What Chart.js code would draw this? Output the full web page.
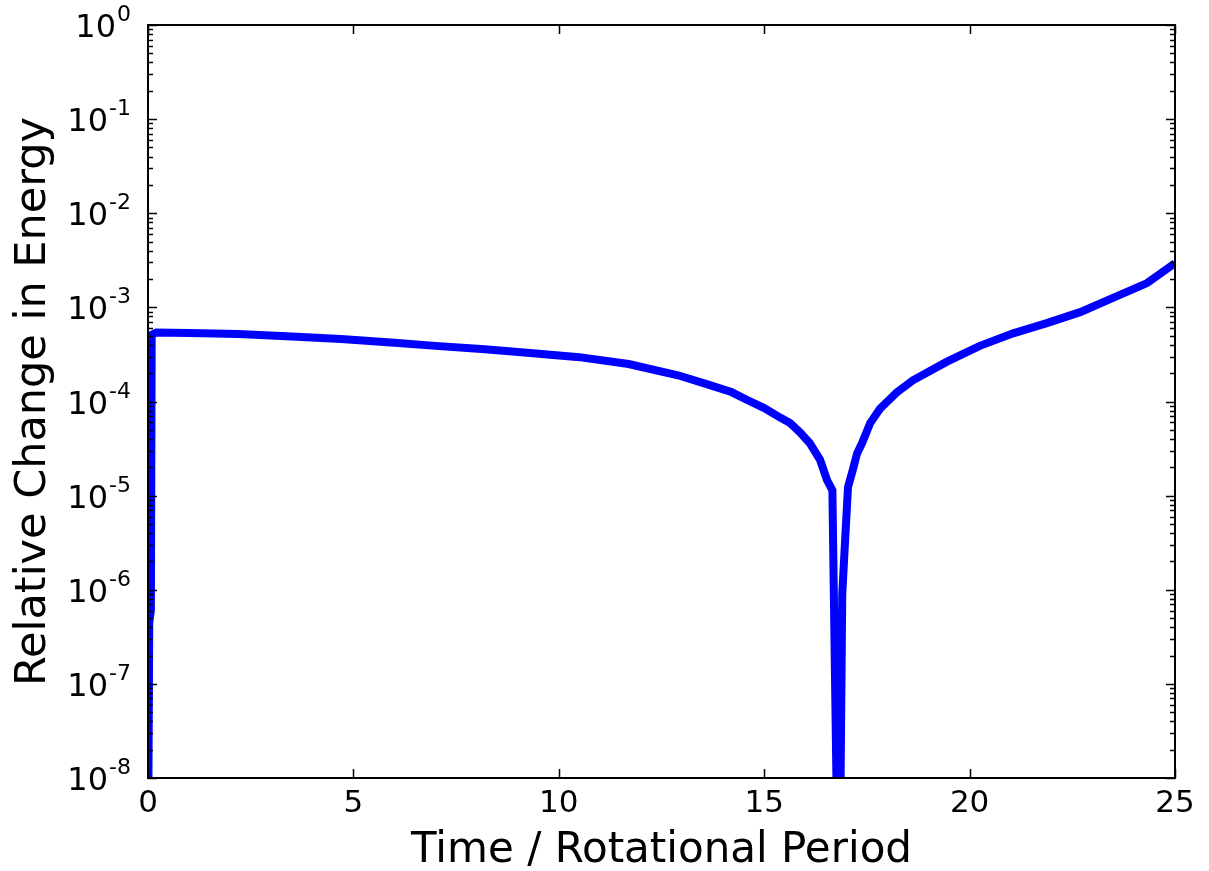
<!DOCTYPE html>
<html>
<head>
<meta charset="utf-8">
<script src="https://cdn.jsdelivr.net/npm/chart.js@4/dist/chart.umd.min.js"></script>
<style>
body { margin: 0; background: #fff; }
#wrap { width: 1209px; height: 871px; position: relative; }
</style>
</head>
<body>
<div id="wrap"><canvas id="energyChart"></canvas></div>
<script>
// time in rotational periods
const times = [
    0, 0.03, 0.07, 0.09, 0.2, 1, 2.2, 3.5, 4.7, 6, 7, 8.2, 9.3, 10.5,
    11.7, 12.9, 13.6, 14.2, 14.6, 15, 15.4, 15.63, 15.87, 16.11, 16.36,
    16.53, 16.66, 16.79, 16.84, 16.9, 16.97, 17.04, 17.16, 17.26, 17.38,
    17.58, 17.82, 18.23, 18.62, 19.45, 20.25, 21.06, 21.88, 22.69, 23.49,
    24.32, 25
];

// relative change in energy
const relEnergy = [
    1e-9, 4.5e-7, 6e-7, 5.1e-4, 5.4e-4, 5.35e-4, 5.2e-4, 4.9e-4, 4.6e-4,
    4.2e-4, 3.9e-4, 3.6e-4, 3.27e-4, 2.96e-4, 2.5e-4, 1.9e-4, 1.53e-4,
    1.26e-4, 1.03e-4, 8.5e-5, 6.7e-5, 5.9e-5, 4.7e-5, 3.6e-5, 2.4e-5,
    1.46e-5, 1.14e-5, 1e-9, 1e-9, 9e-7, 3.4e-6, 1.23e-5, 1.9e-5, 2.8e-5,
    3.6e-5, 5.9e-5, 8.4e-5, 1.25e-4, 1.68e-4, 2.65e-4, 3.9e-4, 5.3e-4,
    6.8e-4, 8.9e-4, 1.26e-3, 1.81e-3, 2.95e-3
];

const xTicks = [0, 5, 10, 15, 20, 25];
const yExponents = [0, -1, -2, -3, -4, -5, -6, -7, -8];

const points = times.map((t, i) => ({ x: t, y: relEnergy[i] }));

const FONT = '"DejaVu Sans", sans-serif';

// matplotlib-style frame, inward ticks and tick labels
const framePlugin = {
    id: "frame",
    afterDraw(chart) {
        const ctx = chart.ctx;
        const a = chart.chartArea;
        const xs = chart.scales.x;
        const ys = chart.scales.y;

        ctx.save();
        ctx.strokeStyle = "#000";
        ctx.lineWidth = 2;
        ctx.strokeRect(a.left, a.top, a.right - a.left, a.bottom - a.top);

        ctx.lineWidth = 1.5;
        ctx.beginPath();
        xTicks.forEach(v => {
            const px = Math.round(xs.getPixelForValue(v)) + 0.5;
            ctx.moveTo(px, a.bottom);
            ctx.lineTo(px, a.bottom - 9);
            ctx.moveTo(px, a.top);
            ctx.lineTo(px, a.top + 9);
        });
        yExponents.forEach(e => {
            const py = Math.round(ys.getPixelForValue(Math.pow(10, e))) + 0.5;
            ctx.moveTo(a.left, py);
            ctx.lineTo(a.left + 9, py);
            ctx.moveTo(a.right, py);
            ctx.lineTo(a.right - 9, py);
            if (e > -8) {
                for (let m = 2; m <= 9; m++) {
                    const pm = Math.round(ys.getPixelForValue(m * Math.pow(10, e - 1))) + 0.5;
                    ctx.moveTo(a.left, pm);
                    ctx.lineTo(a.left + 5, pm);
                    ctx.moveTo(a.right, pm);
                    ctx.lineTo(a.right - 5, pm);
                }
            }
        });
        ctx.stroke();

        ctx.fillStyle = "#000";
        ctx.textBaseline = "alphabetic";

        ctx.font = "31px " + FONT;
        ctx.textAlign = "center";
        xTicks.forEach(v => {
            ctx.fillText(String(v), xs.getPixelForValue(v), a.bottom + 34);
        });

        yExponents.forEach(e => {
            const py = ys.getPixelForValue(Math.pow(10, e));
            const sup = String(e);
            ctx.font = "22px " + FONT;
            ctx.textAlign = "right";
            const supW = ctx.measureText(sup).width;
            ctx.fillText(sup, a.left - 17, py - 4);
            ctx.font = "32px " + FONT;
            ctx.fillText("10", a.left - 18 - supW, py + 12);
        });

        ctx.font = "42px " + FONT;
        ctx.textAlign = "center";
        ctx.fillText("Time / Rotational Period", (a.left + a.right) / 2, 862);

        ctx.font = "43px " + FONT;
        ctx.translate(45, (a.top + a.bottom) / 2);
        ctx.rotate(-Math.PI / 2);
        ctx.fillText("Relative Change in Energy", 0, 0);
        ctx.restore();
    }
};

new Chart(document.getElementById("energyChart").getContext("2d"), {
    type: "line",
    data: {
        datasets: [{
            label: "Relative Change in Energy",
            data: points,
            borderColor: "#0000ff",
            borderWidth: 8,
            pointRadius: 0,
            tension: 0,
            fill: false
        }]
    },
    options: {
        responsive: true,
        maintainAspectRatio: false,
        animation: false,
        layout: {
            padding: { left: 148, top: 25, right: 34, bottom: 93 }
        },
        scales: {
            x: {
                type: "linear",
                min: 0,
                max: 25,
                display: false
            },
            y: {
                type: "logarithmic",
                min: 1e-8,
                max: 1,
                display: false
            }
        },
        plugins: {
            legend: { display: false },
            tooltip: { enabled: false }
        }
    },
    plugins: [framePlugin]
});
</script>
</body>
</html>
